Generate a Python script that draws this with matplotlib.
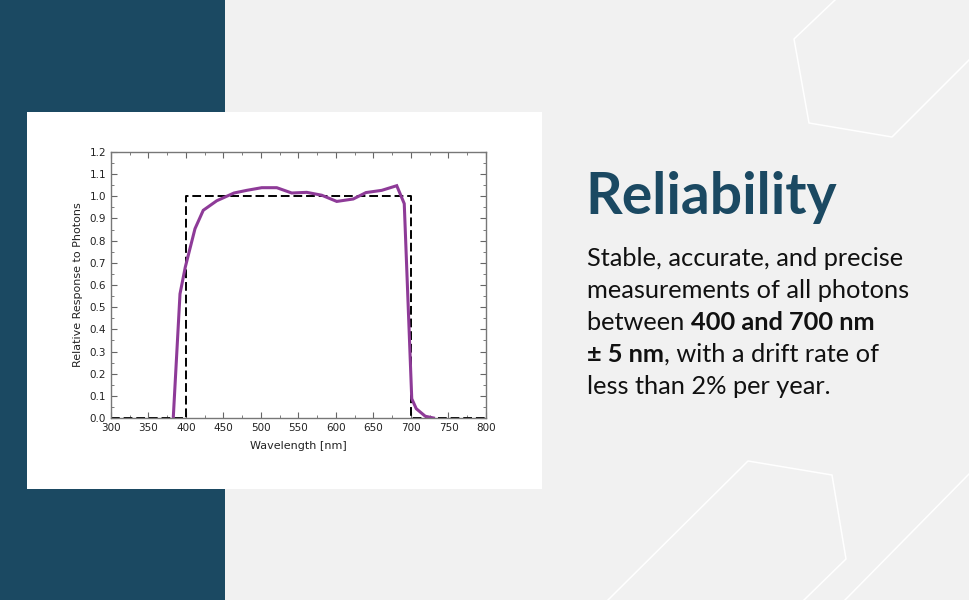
import matplotlib
matplotlib.use("Agg")
import matplotlib.pyplot as plt
from matplotlib.patches import Rectangle
from matplotlib.ticker import MultipleLocator

# sensor response
wavelength = [383, 392, 399, 412, 423, 441, 464, 481, 501, 521, 541, 561, 581,
              601, 623, 640, 661, 681, 691, 701, 707, 719, 730]
response = [0.0, 0.56, 0.68, 0.854, 0.937, 0.98, 1.015, 1.027, 1.039, 1.039,
            1.015, 1.018, 1.005, 0.977, 0.988, 1.017, 1.027, 1.048, 0.967,
            0.087, 0.042, 0.008, 0.0]

# ideal quantum response
ideal_x = [300, 400, 400, 700, 700, 800]
ideal_y = [0, 0, 1, 1, 0, 0]

title = "Reliability"
body_lines = [
    [("Stable, accurate, and precise", "normal")],
    [("measurements of all photons", "normal")],
    [("between ", "normal"), ("400 and 700 nm", "bold")],
    [("\u00b1 5 nm", "bold"), (", with a drift rate of", "normal")],
    [("less than 2% per year.", "normal")],
]

W, H = 970, 600
navy = "#1b4962"
bg = "#f1f1f1"
purple = "#8e3b98"
font = ["Lato", "DejaVu Sans"]

fig = plt.figure(figsize=(W / 100, H / 100), dpi=100)
fig.patch.set_facecolor(bg)

# background panels
fig.patches.append(Rectangle((0, 0), 225 / W, 1, transform=fig.transFigure,
                             facecolor=navy, edgecolor="none", zorder=0))
fig.patches.append(Rectangle((27 / W, 1 - 489 / H), 515 / W, 377 / H,
                             transform=fig.transFigure, facecolor="white",
                             edgecolor="none", zorder=1))

# decorative outlines
deco = [
    [(835, 0), (794, 39), (809, 123), (892, 137), (970, 59)],
    [(608, 600), (748, 461), (832, 475), (846, 559), (804, 600)],
    [(845, 600), (970, 473)],
]
for pts in deco:
    xs = [p[0] / W for p in pts]
    ys = [1 - p[1] / H for p in pts]
    fig.add_artist(plt.Line2D(xs, ys, color="white", lw=1.1,
                              transform=fig.transFigure, zorder=1))

# chart
ax = fig.add_axes([111 / W, 1 - 418 / H, 375 / W, 266 / H])
ax.set_zorder(2)
ax.plot(ideal_x, ideal_y, color="black", lw=1.4, dashes=(4.5, 2))
ax.plot(wavelength, response, color=purple, lw=2.2, solid_joinstyle="miter")
ax.set_xlim(300, 800)
ax.set_ylim(0, 1.2)
ax.xaxis.set_major_locator(MultipleLocator(50))
ax.xaxis.set_minor_locator(MultipleLocator(25))
ax.yaxis.set_major_locator(MultipleLocator(0.1))
ax.yaxis.set_minor_locator(MultipleLocator(0.05))
ax.set_yticklabels([f"{v:.1f}" for v in ax.get_yticks()])
ax.tick_params(which="both", direction="in", top=True, right=True,
               colors="#666666", labelcolor="#222222", labelsize=7.5)
ax.tick_params(which="major", length=4)
ax.tick_params(which="minor", length=2.5)
for s in ax.spines.values():
    s.set_color("#777777")
    s.set_linewidth(1)
ax.set_xlabel("Wavelength [nm]", fontsize=8, color="#222222", labelpad=6)
ax.set_ylabel("Relative Response to Photons", fontsize=8, color="#222222",
              labelpad=5)

# text block
fig.text(585 / W, 1 - 214 / H, title, fontsize=41, fontweight="bold",
         color=navy, family=font, va="baseline")

renderer = fig.canvas.get_renderer()
y0 = 266
for i, runs in enumerate(body_lines):
    x = 587
    y = 1 - (y0 + 32 * i) / H
    for txt, wt in runs:
        t = fig.text(x / W, y, txt, fontsize=18.3, fontweight=wt,
                     color="#111111", family=font, va="baseline")
        bb = t.get_window_extent(renderer)
        x = bb.x1

fig.savefig("out.png", dpi=100, facecolor=bg)
